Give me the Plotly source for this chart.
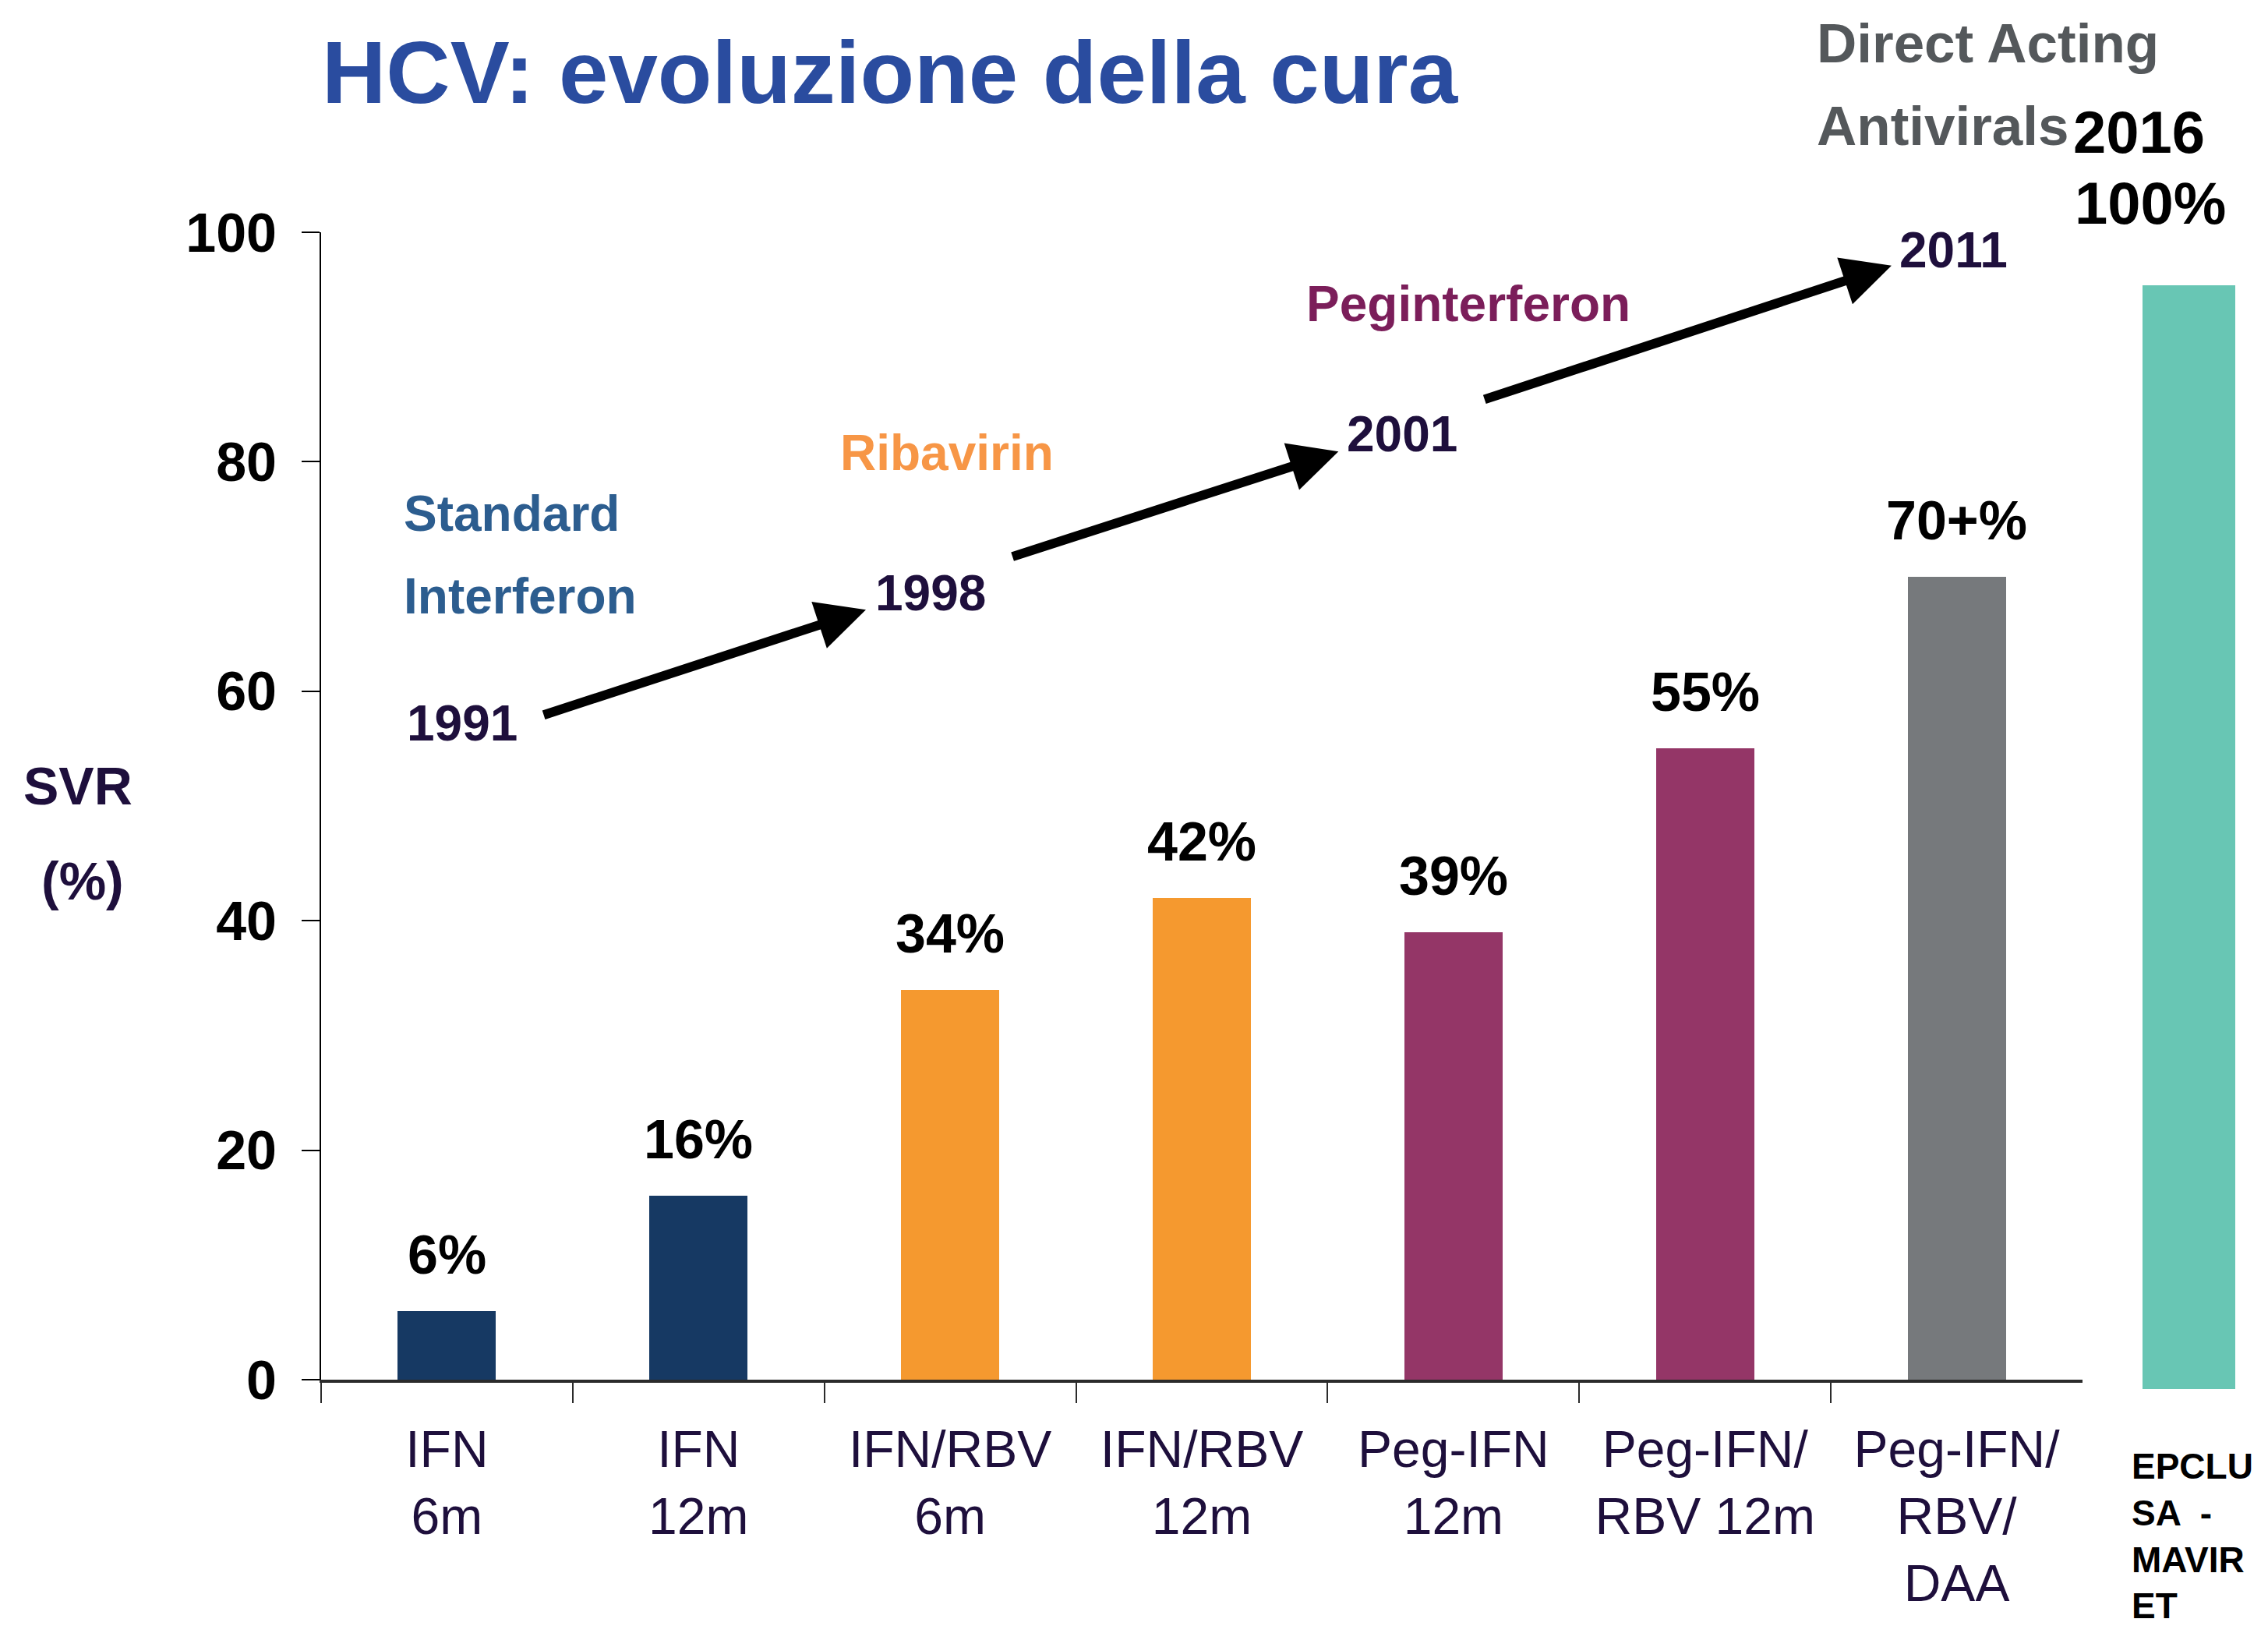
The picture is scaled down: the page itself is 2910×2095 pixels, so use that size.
import plotly.graph_objects as go

W, H = 2910, 2095

# ---------------- data ----------------
categories = ["IFN 6m", "IFN 12m", "IFN/RBV 6m", "IFN/RBV 12m",
              "Peg-IFN 12m", "Peg-IFN/RBV 12m", "Peg-IFN/RBV/DAA"]
tick_labels = ["IFN<br>6m", "IFN<br>12m", "IFN/RBV<br>6m", "IFN/RBV<br>12m",
               "Peg-IFN<br>12m", "Peg-IFN/<br>RBV 12m", "Peg-IFN/<br>RBV/<br>DAA"]
svr_values = [6, 16, 34, 42, 39, 55, 70]
value_labels = ["6%", "16%", "34%", "42%", "39%", "55%", "70+%"]
bar_colors = ["#163963", "#163963", "#F5992F", "#F5992F",
              "#943667", "#943667", "#76797C"]

daa_category = ["EPCLUSA - MAVIRET"]
daa_value = [100]
daa_color = "#68C6B4"

y_ticks = [0, 20, 40, 60, 80, 100]

eras = ["Standard", "Interferon", "Ribavirin", "Peginterferon"]
years = ["1991", "1998", "2001", "2011"]

# ---------------- helpers ----------------
def fx(px):
    return px / W

def fy(py):
    return 1 - py / H

SANS = "Liberation Sans, Arial, sans-serif"
DARK = "#1E0F3C"

fig = go.Figure()

fig.add_trace(go.Bar(
    x=categories, y=svr_values, marker=dict(color=bar_colors, line=dict(width=0)),
    width=0.39, xaxis="x", yaxis="y", showlegend=False, hoverinfo="skip"))

fig.add_trace(go.Bar(
    x=daa_category, y=daa_value, marker=dict(color=daa_color, line=dict(width=0)),
    width=1.0, xaxis="x2", yaxis="y2", showlegend=False, hoverinfo="skip"))

annotations = []

# value labels above bars
for c, v, lab in zip(categories, svr_values, value_labels):
    annotations.append(dict(
        x=c, y=v, xref="x", yref="y", text="<b>" + lab + "</b>",
        showarrow=False, yanchor="middle", xanchor="center", yshift=72,
        font=dict(family=SANS, size=70, color="black")))

# timeline arrows (tail -> head) in category-index / value coordinates
arrows = [((0.38, 57.9), (1.665, 67.1)),
          ((2.243, 71.7), (3.543, 80.9)),
          ((4.119, 85.4), (5.741, 97.1))]
for (tx, ty), (hx, hy) in arrows:
    annotations.append(dict(
        x=hx, y=hy, ax=tx, ay=ty, xref="x", yref="y", axref="x", ayref="y",
        text="", showarrow=True, arrowhead=2, arrowsize=1.05, arrowwidth=12,
        arrowcolor="black", standoff=0))

def txt(text, x, y, size, color, xanchor="left", align="left"):
    annotations.append(dict(
        x=fx(x), y=fy(y), xref="paper", yref="paper", text=text,
        showarrow=False, xanchor=xanchor, yanchor="middle", align=align,
        font=dict(family=SANS, size=size, color=color)))

# title
txt("<b>HCV: evoluzione della cura</b>", 1142, 93, 114, "#2A4C9F", xanchor="center", align="center")

# era labels
txt("<b>" + eras[0] + "</b>", 516, 659, 64, "#2C5D8F")
txt("<b>" + eras[1] + "</b>", 516, 765, 64, "#2C5D8F")
txt("<b>" + eras[2] + "</b>", 1076, 581, 64, "#F79646")
txt("<b>" + eras[3] + "</b>", 1674, 390, 64, "#7B1E5A")
txt("<b>Direct Acting</b>", 2329, 56, 71, "#54585B")
txt("<b>Antivirals</b>", 2329, 161, 71, "#54585B")

# year labels
txt("<b>" + years[0] + "</b>", 520, 928, 64, DARK)
txt("<b>" + years[1] + "</b>", 1121, 761, 64, DARK)
txt("<b>" + years[2] + "</b>", 1726, 557, 64, DARK)
txt("<b>" + years[3] + "</b>", 2435, 321, 64, DARK)

# DAA labels
txt("<b>2016</b>", 2658, 169, 76, "black")
txt("<b>" + str(daa_value[0]) + "%</b>", 2660, 260, 76, "black")
txt("<b>EPCLU<br>SA  -<br>MAVIR<br>ET</b>", 2733, 1970, 46, "black")

# y axis title
txt("<b>SVR</b>", 100, 1008, 68, DARK, xanchor="center", align="center")
txt("<b>(%)</b>", 106, 1130, 68, DARK, xanchor="center", align="center")

fig.update_layout(
    width=W, height=H,
    margin=dict(l=0, r=0, t=0, b=0, autoexpand=False),
    paper_bgcolor="white", plot_bgcolor="rgba(0,0,0,0)",
    annotations=annotations,
    bargap=0,
    xaxis=dict(
        domain=[fx(412), fx(2672)], range=[-0.5, 6.5], type="category",
        categoryorder="array", categoryarray=categories,
        tickvals=categories, ticktext=tick_labels, tickangle=0,
        showline=True, linewidth=4, linecolor="#2b2b2b",
        ticks="outside", tickson="boundaries", ticklen=26, tickwidth=2, tickcolor="#2b2b2b",
        tickfont=dict(family=SANS, size=66, color=DARK),
        ticklabelstandoff=29,
        showgrid=False, zeroline=False, anchor="y", fixedrange=True),
    yaxis=dict(
        domain=[fy(1770), fy(298)], range=[0, 100],
        tickvals=y_ticks, ticktext=["<b>%d</b>" % t for t in y_ticks],
        showline=True, linewidth=2, linecolor="black",
        ticks="outside", ticklen=23, tickwidth=2, tickcolor="black",
        tickfont=dict(family=SANS, size=70, color="black"),
        ticklabelstandoff=18,
        showgrid=False, zeroline=False, anchor="x", fixedrange=True),
    xaxis2=dict(
        domain=[fx(2749), fx(2868)], range=[-0.5, 0.5], type="category",
        visible=False, anchor="y2", fixedrange=True),
    yaxis2=dict(
        domain=[fy(1782), fy(366)], range=[0, 100],
        visible=False, anchor="x2", fixedrange=True),
)

fig.write_html("out.html", post_script="document.body.style.margin='0';",
               config={"displayModeBar": False})
